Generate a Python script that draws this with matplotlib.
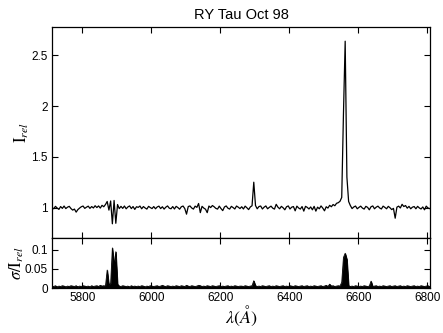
import numpy as np
import matplotlib
matplotlib.use('Agg')
import matplotlib.pyplot as plt

plt.rcParams['font.family'] = ['Liberation Sans', 'DejaVu Sans']
plt.rcParams['mathtext.fontset'] = 'stix'

# wavelength grid (Angstrom), 5 A sampling
wl_start = 5712
wl_step = 5

# relative intensity, rows of 10 points (50 A each)
flux = [
    1.000, 0.988, 1.012, 0.995, 0.982, 1.010, 0.992, 1.015, 0.990, 1.004,   # 5712
    1.012, 0.990, 0.975, 0.985, 0.955, 0.980, 0.995, 1.008, 1.015, 0.992,   # 5762
    1.004, 1.014, 0.992, 1.010, 0.996, 1.018, 1.000, 1.016, 0.995, 1.022,   # 5812
    1.008, 1.030, 1.060, 0.975, 1.065, 0.840, 1.070, 0.845, 1.030, 0.990,   # 5862
    1.012, 0.992, 1.015, 0.988, 1.006, 1.016, 0.990, 1.010, 0.982, 1.008,   # 5912
    1.002, 1.015, 0.988, 1.010, 0.996, 0.985, 1.012, 1.000, 0.990, 1.010,   # 5962
    0.988, 1.006, 1.014, 0.990, 1.008, 0.985, 1.004, 1.016, 0.994, 0.988,   # 6012
    1.010, 0.986, 1.012, 1.000, 0.984, 1.008, 1.015, 0.990, 0.935, 1.010,   # 6062
    1.016, 0.996, 0.985, 1.014, 1.002, 1.040, 0.950, 1.012, 0.995, 0.984,   # 6112
    0.950, 1.015, 1.000, 1.020, 1.008, 0.992, 0.985, 1.014, 0.990, 0.970,   # 6162
    1.006, 1.016, 0.994, 0.985, 1.012, 1.000, 0.986, 1.015, 1.004, 0.990,   # 6212
    1.008, 0.986, 1.014, 0.998, 0.980, 1.006, 1.018, 1.250, 1.020, 0.988,   # 6262
    1.010, 1.015, 0.986, 1.004, 1.016, 0.988, 1.002, 1.014, 0.994, 0.985,   # 6312
    1.032, 1.004, 0.988, 1.012, 0.998, 0.978, 1.008, 1.016, 0.986, 1.004,   # 6362
    1.010, 0.968, 1.014, 0.996, 0.985, 1.010, 0.965, 1.012, 1.002, 0.986,   # 6412
    1.006, 0.978, 1.012, 0.965, 1.004, 0.988, 1.016, 0.995, 0.968, 1.008,   # 6462
    0.995, 1.022, 1.008, 1.030, 1.018, 1.042, 1.048, 1.062, 1.100, 1.920,   # 6512
    2.640, 1.300, 1.060, 1.020, 0.990, 1.006, 1.015, 0.988, 1.002, 1.014,   # 6562
    0.995, 0.985, 1.012, 1.002, 0.978, 1.008, 1.016, 0.988, 1.004, 1.014,   # 6612
    0.996, 0.986, 1.014, 1.002, 0.988, 1.012, 0.998, 0.980, 0.992, 0.895,   # 6662
    1.004, 1.014, 0.996, 1.032, 1.010, 1.020, 0.994, 1.012, 0.988, 1.004,   # 6712
    1.010, 0.988, 1.012, 0.996, 0.986, 1.006, 0.978, 1.014, 0.996, 0.990,   # 6762
]

# relative error sigma / I_rel on the same grid
sigma = [
    0.005, 0.004, 0.006, 0.003, 0.005, 0.004, 0.006, 0.005, 0.003, 0.005,
    0.004, 0.006, 0.005, 0.004, 0.006, 0.003, 0.005, 0.004, 0.006, 0.005,
    0.004, 0.005, 0.003, 0.006, 0.004, 0.005, 0.006, 0.004, 0.007, 0.005,
    0.006, 0.005, 0.047, 0.008, 0.012, 0.105, 0.060, 0.095, 0.010, 0.005,
    0.004, 0.006, 0.005, 0.004, 0.005, 0.003, 0.006, 0.004, 0.005, 0.004,
    0.005, 0.004, 0.006, 0.005, 0.003, 0.005, 0.004, 0.006, 0.005, 0.004,
    0.005, 0.006, 0.004, 0.005, 0.007, 0.005, 0.004, 0.006, 0.005, 0.004,
    0.005, 0.004, 0.006, 0.005, 0.004, 0.006, 0.005, 0.004, 0.007, 0.005,
    0.004, 0.006, 0.005, 0.004, 0.005, 0.007, 0.006, 0.004, 0.005, 0.004,
    0.006, 0.005, 0.004, 0.006, 0.005, 0.004, 0.005, 0.006, 0.004, 0.005,
    0.004, 0.005, 0.006, 0.004, 0.005, 0.004, 0.006, 0.005, 0.004, 0.005,
    0.005, 0.004, 0.006, 0.005, 0.004, 0.005, 0.006, 0.019, 0.006, 0.004,
    0.005, 0.004, 0.006, 0.005, 0.004, 0.005, 0.006, 0.004, 0.005, 0.004,
    0.006, 0.005, 0.004, 0.005, 0.006, 0.004, 0.005, 0.004, 0.006, 0.005,
    0.004, 0.006, 0.005, 0.004, 0.005, 0.006, 0.004, 0.005, 0.006, 0.004,
    0.005, 0.004, 0.006, 0.005, 0.004, 0.005, 0.006, 0.004, 0.005, 0.007,
    0.004, 0.010, 0.005, 0.006, 0.004, 0.005, 0.006, 0.005, 0.015, 0.080,
    0.091, 0.075, 0.006, 0.004, 0.005, 0.004, 0.006, 0.005, 0.004, 0.005,
    0.004, 0.006, 0.005, 0.004, 0.005, 0.018, 0.004, 0.005, 0.006, 0.004,
    0.005, 0.004, 0.006, 0.005, 0.004, 0.005, 0.006, 0.004, 0.005, 0.006,
    0.004, 0.005, 0.006, 0.004, 0.005, 0.004, 0.006, 0.005, 0.004, 0.005,
    0.006, 0.004, 0.005, 0.004, 0.006, 0.005, 0.004, 0.005, 0.006, 0.004,
]

wl = wl_start + wl_step * np.arange(len(flux))

x_ticks = [5800, 6000, 6200, 6400, 6600, 6800]
top_ticks = [1, 1.5, 2, 2.5]
top_labels = ['1', '1.5', '2', '2.5']
bot_ticks = [0, 0.05, 0.1]
bot_labels = ['0', '0.05', '0.1']

fig = plt.figure(figsize=(4.43, 3.33), dpi=100)
ax1 = fig.add_axes([0.1174, 0.2853, 0.8533, 0.6336])
ax2 = fig.add_axes([0.1174, 0.1351, 0.8533, 0.1502])

ax1.plot(wl, flux, color='k', lw=0.9)
ax1.set_xlim(5712, 6808)
ax1.set_ylim(0.70, 2.78)
ax1.set_xticks(x_ticks)
ax1.set_xticklabels([])
ax1.set_yticks(top_ticks)
ax1.set_yticklabels(top_labels)
ax1.set_ylabel(r'$\mathrm{I}_{rel}$', fontsize=12, labelpad=0)
ax1.set_title('RY Tau Oct 98', fontsize=10.5, pad=6)

ax2.fill_between(wl, 0, sigma, color='k', lw=0.6)
ax2.plot(wl, sigma, color='k', lw=0.6)
ax2.set_xlim(5712, 6808)
ax2.set_ylim(0, 0.131)
ax2.set_xticks(x_ticks)
ax2.set_yticks(bot_ticks)
ax2.set_yticklabels(bot_labels)
ax2.set_ylabel(r'$\sigma/\mathrm{I}_{rel}$', fontsize=12, labelpad=-1)
ax2.set_xlabel(r'$\lambda(\AA)$', fontsize=13, labelpad=0)

for ax in (ax1, ax2):
    ax.tick_params(direction='in', top=True, right=True, length=4,
                   width=0.8, labelsize=8.5, pad=3)
    for s in ax.spines.values():
        s.set_linewidth(0.9)

fig.savefig('out.png', dpi=100)
